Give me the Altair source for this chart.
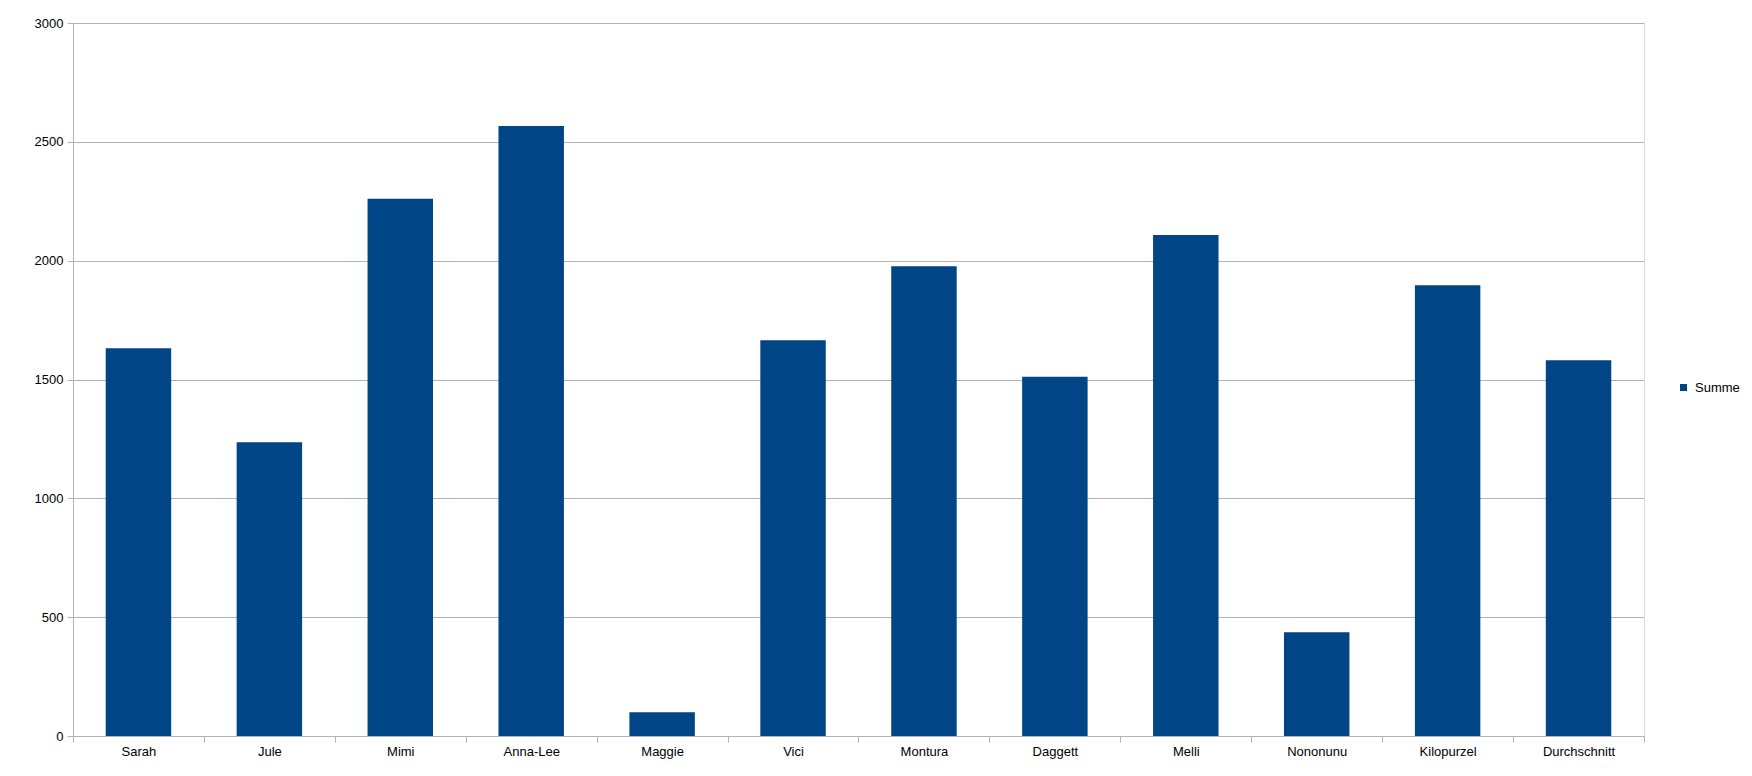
import altair as alt
import pandas as pd

names = ["Sarah", "Jule", "Mimi", "Anna-Lee", "Maggie", "Vici", "Montura",
         "Daggett", "Melli", "Nononunu", "Kilopurzel", "Durchschnitt"]
values = [1632, 1236, 2261, 2567, 100, 1665, 1977, 1512, 2108, 437, 1897, 1581]
series = ["Summe"] * len(names)
y_ticks = [0, 500, 1000, 1500, 2000, 2500, 3000]

df = pd.DataFrame({"name": names, "value": values, "series": series})

FONT = "Liberation Sans"
GRID = "#b3b3b3"
BLUE = "#004586"

chart = alt.Chart(df).mark_bar(
    width=alt.RelativeBandSize(0.5), color=BLUE
).encode(
    x=alt.X("name:N", sort=names, title=None,
            scale=alt.Scale(paddingInner=0, paddingOuter=0),
            axis=alt.Axis(labelAngle=0, tickBand="extent", grid=False,
                          domainColor=GRID, tickColor=GRID, tickSize=6,
                          labelFont=FONT, labelFontSize=13, labelColor="#000",
                          labelPadding=3)),
    y=alt.Y("value:Q", title=None,
            scale=alt.Scale(domain=[0, 3000], nice=False),
            axis=alt.Axis(values=y_ticks, format="d", grid=True, gridColor=GRID,
                          domainColor=GRID, tickColor=GRID, tickSize=6,
                          labelFont=FONT, labelFontSize=13, labelColor="#000",
                          labelPadding=4)),
    color=alt.Color("series:N", title=None,
                    scale=alt.Scale(domain=["Summe"], range=[BLUE]),
                    legend=alt.Legend(orient="none", legendX=1604, legendY=358,
                                      symbolType="square", symbolSize=49,
                                      symbolStrokeWidth=0,
                                      labelFont=FONT, labelFontSize=13,
                                      labelColor="#000", labelOffset=5,
                                      labelLimit=200, padding=0)),
).properties(
    width=1571, height=713,
    padding={"left": 65, "top": 15, "right": 100, "bottom": 30},
    autosize=alt.AutoSizeParams(type="none"),
).configure_view(
    stroke=GRID
).configure(background="white")

chart.save("out.html", embed_options={"renderer": "svg", "actions": False})
